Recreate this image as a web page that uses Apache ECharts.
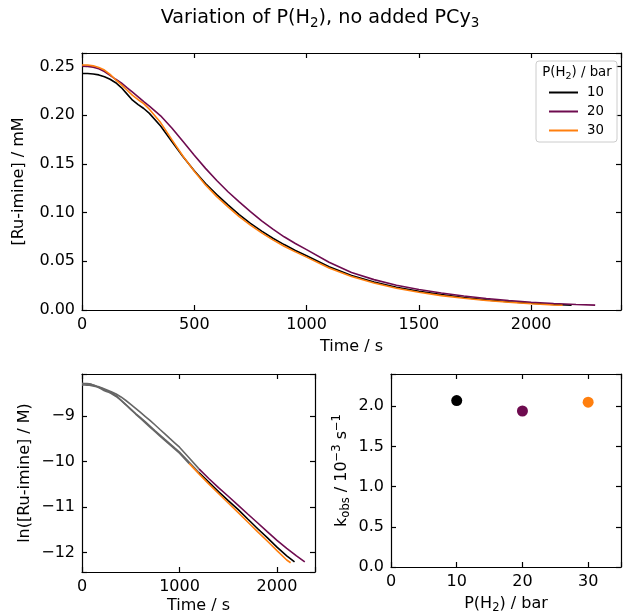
<!DOCTYPE html>
<html>
<head>
<meta charset="utf-8">
<script src="https://cdn.jsdelivr.net/npm/echarts@6/dist/echarts.min.js"></script>
<style>
html, body { margin: 0; padding: 0; background: #fff; }
#chart { width: 624px; height: 615px; }
</style>
</head>
<body>
<div id="chart"></div>
<script>
// ---- data ----
// time (s) for each run
const time10 = [0, 25, 50, 75, 100, 125, 150, 175, 200, 225, 250, 275, 300,
    350, 400, 450, 500, 550, 600, 650, 700, 750, 800, 850, 900, 950, 1000,
    1100, 1200, 1300, 1400, 1500, 1600, 1700, 1800, 1900, 2000, 2100, 2180];
const time20 = [0, 25, 50, 75, 100, 125, 150, 175, 200, 225, 250, 275, 300,
    350, 400, 450, 500, 550, 600, 650, 700, 750, 800, 850, 900, 950, 1000,
    1100, 1200, 1300, 1400, 1500, 1600, 1700, 1800, 1900, 2000, 2100, 2200, 2285];
const time30 = [0, 25, 50, 75, 100, 125, 150, 175, 200, 225, 250, 275, 300,
    350, 400, 450, 500, 550, 600, 650, 700, 750, 800, 850, 900, 950, 1000,
    1100, 1200, 1300, 1400, 1500, 1600, 1700, 1800, 1900, 2000, 2100, 2140];

// [Ru-imine] in mM
const conc10 = [0.2430, 0.2429, 0.2425, 0.2415, 0.2395, 0.2370, 0.2335, 0.2285, 0.2220, 0.2155, 0.2110, 0.2070, 0.2020,
    0.1890, 0.1730, 0.1575, 0.1430, 0.1300, 0.1185, 0.1080, 0.0980, 0.0890, 0.0810, 0.0737, 0.0672, 0.0612, 0.0558,
    0.0445, 0.0355, 0.0288, 0.0234, 0.0192, 0.0158, 0.0128, 0.0104, 0.0085, 0.0069, 0.0057, 0.0050];
const conc20 = [0.2506, 0.2503, 0.2495, 0.2478, 0.2450, 0.2410, 0.2370, 0.2333, 0.2285, 0.2238, 0.2190, 0.2140, 0.2095,
    0.1995, 0.1870, 0.1730, 0.1590, 0.1455, 0.1330, 0.1215, 0.1110, 0.1010, 0.0915, 0.0830, 0.0752, 0.0683, 0.0620,
    0.0490, 0.0385, 0.0312, 0.0255, 0.0211, 0.0174, 0.0143, 0.0118, 0.0097, 0.0080, 0.0067, 0.0057, 0.0050];
const conc30 = [0.2517, 0.2516, 0.2508, 0.2492, 0.2465, 0.2420, 0.2365, 0.2315, 0.2260, 0.2205, 0.2160, 0.2120, 0.2062,
    0.1925, 0.1750, 0.1580, 0.1425, 0.1285, 0.1165, 0.1060, 0.0960, 0.0872, 0.0792, 0.0720, 0.0655, 0.0597, 0.0543,
    0.0432, 0.0345, 0.0277, 0.0224, 0.0182, 0.0148, 0.0120, 0.0097, 0.0079, 0.0064, 0.0052, 0.0049];

// where the coloured (fitted) part of the ln plot starts, s
const fitStart = [1200, 1200, 1100];

// k_obs vs pressure
const pressures = [10, 20, 30];
const kobs = [2.07, 1.94, 2.05];

const runNames = ['10', '20', '30'];
const runColors = ['#000000', '#6e0b4f', '#ff7f0e'];
const greyColor = '#666666';

// ---- helpers ----
const FONT = 'DejaVu Sans';
function richSet(size, sub) {
    return {
        a: { fontFamily: FONT, fontSize: size, color: '#000' },
        s: { fontFamily: FONT, fontSize: sub, color: '#000', padding: [Math.round(size * 0.55), 0, 0, 0] },
        p: { fontFamily: FONT, fontSize: sub, color: '#000', padding: [0, 0, Math.round(size * 0.6), 0] }
    };
}
const rich = richSet(16, 11.5);
const richLegend = richSet(13.3, 9.5);
const richTitle = richSet(19.2, 13.5);

function isStep(v, step) {
    return Math.abs(v / step - Math.round(v / step)) < 1e-6;
}

function axis(extra, mirror) {
    return Object.assign({
        type: 'value',
        axisLine: { show: true, onZero: false, lineStyle: { color: '#000', width: 1.2 } },
        axisTick: { show: true, inside: true, length: 5, lineStyle: { color: '#000', width: 1.2 } },
        axisLabel: { show: !mirror },
        splitLine: { show: false },
        nameTextStyle: { fontFamily: FONT, fontSize: 16, color: '#000', rich: rich }
    }, extra);
}

function label(fmt) {
    return { color: '#000', fontFamily: FONT, fontSize: 16, margin: 7, formatter: fmt };
}

function pairs(t, c) {
    return c.map((v, i) => [t[i], v]);
}

const times = [time10, time20, time30];
const concs = [conc10, conc20, conc30];

// top panel: concentration vs time
const topSeries = runNames.map((n, k) => ({
    name: n,
    type: 'line',
    xAxisIndex: 0,
    yAxisIndex: 0,
    symbol: 'none',
    data: pairs(times[k], concs[k]),
    lineStyle: { color: runColors[k], width: 1.6 },
    itemStyle: { color: runColors[k] },
    z: 2 + k
}));

// bottom-left panel: ln of the same data (mM -> M)
const lnSeries = [];
runNames.forEach((n, k) => {
    const d = pairs(times[k], concs[k].map(v => Math.log(v * 1e-3)));
    lnSeries.push({
        type: 'line', xAxisIndex: 2, yAxisIndex: 2, symbol: 'none',
        data: d.filter(p => p[0] <= fitStart[k]),
        lineStyle: { color: greyColor, width: 1.6 }, z: 2
    });
    lnSeries.push({
        type: 'line', xAxisIndex: 2, yAxisIndex: 2, symbol: 'none',
        data: d.filter(p => p[0] >= fitStart[k]),
        lineStyle: { color: runColors[k], width: 1.6 }, z: 3 + k
    });
});

// bottom-right panel: k_obs
const kSeries = {
    type: 'scatter', xAxisIndex: 4, yAxisIndex: 4,
    symbolSize: 11,
    data: pressures.map((p, i) => ({ value: [p, kobs[i]], itemStyle: { color: runColors[i], opacity: 1 } })),
    z: 5
};

const minus = v => (v < 0 ? '\u2212' : '') + Math.abs(v);

const option = {
    backgroundColor: '#fff',
    animation: false,
    grid: [
        { left: 82, top: 53, width: 540, height: 257 },
        { left: 82, top: 374, width: 233, height: 198 },
        { left: 391, top: 374, width: 232, height: 198 }
    ],
    xAxis: [
        axis({ gridIndex: 0, min: 0, max: 2400, interval: 500, name: '{a|Time / s}', nameLocation: 'middle', nameGap: 29,
            axisLabel: label(v => isStep(v, 500) ? String(v) : '') }),
        axis({ gridIndex: 0, min: 0, max: 2400, interval: 500, position: 'top' }, true),
        axis({ gridIndex: 1, min: 0, max: 2390, interval: 1000, name: '{a|Time / s}', nameLocation: 'middle', nameGap: 26,
            axisLabel: label(v => isStep(v, 1000) ? String(v) : '') }),
        axis({ gridIndex: 1, min: 0, max: 2390, interval: 1000, position: 'top' }, true),
        axis({ gridIndex: 2, min: 0, max: 35, interval: 10, name: '{a|P(H}{s|2}{a|) / bar}', nameLocation: 'middle', nameGap: 26,
            axisLabel: label(v => isStep(v, 10) ? String(v) : '') }),
        axis({ gridIndex: 2, min: 0, max: 35, interval: 10, position: 'top' }, true)
    ],
    yAxis: [
        axis({ gridIndex: 0, min: 0, max: 0.264, interval: 0.05, name: '{a|[Ru-imine] / mM}', nameLocation: 'middle', nameGap: 55,
            axisLabel: label(v => isStep(v, 0.05) ? v.toFixed(2) : '') }),
        axis({ gridIndex: 0, min: 0, max: 0.264, interval: 0.05, position: 'right' }, true),
        axis({ gridIndex: 1, min: -12.43, max: -8.08, splitNumber: 4, name: '{a|ln([Ru-imine] / M)}', nameLocation: 'middle', nameGap: 49,
            axisLabel: label(v => isStep(v, 1) ? minus(Math.round(v)) : '') }),
        axis({ gridIndex: 1, min: -12.43, max: -8.08, splitNumber: 4, position: 'right' }, true),
        axis({ gridIndex: 2, min: 0, max: 2.4, interval: 0.5, name: '{a|k}{s|obs}{a| / 10}{p|\u22123}{a| s}{p|\u22121}', nameLocation: 'middle', nameGap: 38,
            axisLabel: label(v => isStep(v, 0.5) ? v.toFixed(1) : '') }),
        axis({ gridIndex: 2, min: 0, max: 2.4, interval: 0.5, position: 'right' }, true)
    ],
    legend: {
        data: runNames,
        orient: 'vertical',
        left: 549,
        top: 85,
        padding: 0,
        icon: 'rect',
        itemWidth: 29,
        itemHeight: 2,
        itemGap: 4,
        textStyle: { fontFamily: FONT, fontSize: 13.3, color: '#000', lineHeight: 15, padding: [0, 0, 0, 4] },
        z: 10
    },
    graphic: [
        {
            type: 'text', x: 320, y: 18, z: 10,
            style: { text: '{a|Variation of P(H}{s|2}{a|), no added PCy}{s|3}', rich: richTitle, align: 'center', verticalAlign: 'middle' }
        },
        {
            type: 'rect', z: 8,
            shape: { x: 536, y: 61, width: 81, height: 81, r: 3 },
            style: { fill: 'rgba(255,255,255,0.85)', stroke: '#cccccc', lineWidth: 1 }
        },
        {
            type: 'text', x: 577, y: 73, z: 10,
            style: { text: '{a|P(H}{s|2}{a|) / bar}', rich: richLegend, align: 'center', verticalAlign: 'middle' }
        }
    ],
    series: topSeries.concat(lnSeries, [kSeries])
};

const chart = echarts.init(document.getElementById('chart'));
chart.setOption(option);
</script>
</body>
</html>
